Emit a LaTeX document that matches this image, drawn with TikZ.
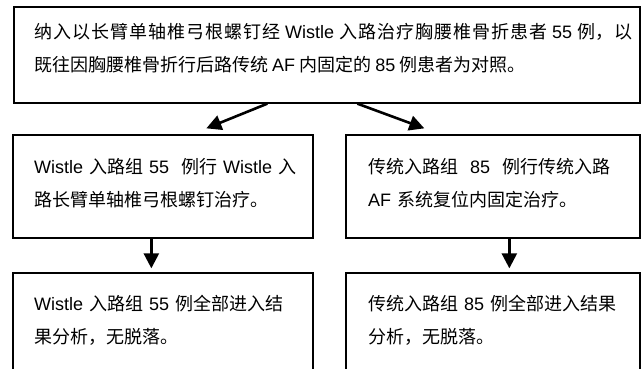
\documentclass[tikz,border=0pt]{standalone}
\usepackage{fontspec}
\setmainfont{Noto Sans CJK SC}
\newfontfamily\latfont{Liberation Sans}
\newcommand\en[1]{{\latfont #1}}
\usetikzlibrary{arrows.meta}
\XeTeXlinebreaklocale "zh"
\XeTeXlinebreakskip=0pt plus 2pt
\tikzset{
  box/.style={draw, line width=1.3pt, inner sep=0pt},
  txt/.style={anchor=base west, inner sep=0pt, text width=290pt, align=left,
    font=\fontsize{18}{33}\selectfont},
  arr/.style={line width=2.6pt, -{Triangle[length=15pt,width=15pt]}}
}
\begin{document}
\begin{tikzpicture}[x=1pt,y=-1pt]
\useasboundingbox (0,0) rectangle (643,369);
\clip (0,0) rectangle (643,369);
\fill[white] (0,0) rectangle (643,369);
% boxes
\node[box, minimum width=626pt, minimum height=96pt] (top) at (327,55) {};
\node[box, minimum width=300pt, minimum height=103pt] (midL) at (163,186.5) {};
\node[box, minimum width=294pt, minimum height=103pt] (midR) at (493,186.5) {};
\node[box, minimum width=300pt, minimum height=140pt] (botL) at (163,343) {};
\node[box, minimum width=294pt, minimum height=140pt] (botR) at (493,343) {};
% texts
\node[txt, text width=598pt, align=justify] (t0) at (34,39)
  {纳入以长臂单轴椎弓根螺钉经 \en{Wistle} 入路治疗胸腰椎骨折患者 \en{55} 例，以\linebreak 既往因胸腰椎骨折行后路传统 \en{AF} 内固定的 \en{85} 例患者为对照。};
\node[txt] (t1) at (34,173)
  {\en{Wistle} 入路组 \en{55}\ \ 例行 \en{Wistle} 入\\路长臂单轴椎弓根螺钉治疗。};
\node[txt] (t2) at (368,173)
  {传统入路组\ \ \en{85}\ \ 例行传统入路\\\en{AF} 系统复位内固定治疗。};
\node[txt] (t3) at (34,310)
  {\en{Wistle} 入路组 \en{55} 例全部进入结\\果分析，无脱落。};
\node[txt] (t4) at (368,310)
  {传统入路组 \en{85} 例全部进入结果\\分析，无脱落。};
% arrows
\draw[arr] ([xshift=254pt]top.south west) -- ([xshift=194pt,yshift=6pt]midL.north west);
\draw[arr] ([xshift=344pt]top.south west) -- ([xshift=79pt,yshift=6pt]midR.north west);
\draw[arr] ([xshift=139pt]midL.south west) -- ([xshift=139pt,yshift=4pt]botL.north west);
\draw[arr] ([xshift=164pt]midR.south west) -- ([xshift=164pt,yshift=4pt]botR.north west);
\end{tikzpicture}
\end{document}
